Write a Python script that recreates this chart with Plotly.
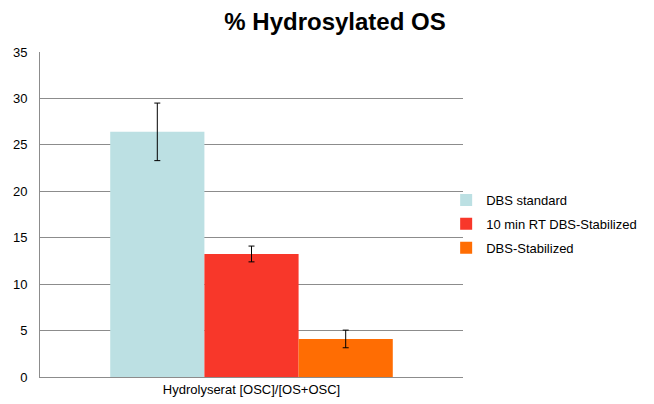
import plotly.graph_objects as go

category = ["Hydrolyserat [OSC]/[OS+OSC]"]
series_names = ["DBS standard", "10 min RT DBS-Stabilized", "DBS-Stabilized"]
values = [26.4, 13.25, 4.1]
errors = [3.1, 0.85, 0.95]
colors = ["#BCE0E3", "#F8372A", "#FF6D03"]
y_ticks = [0, 5, 10, 15, 20, 25, 30, 35]

fig = go.Figure()
for name, v, e, c in zip(series_names, values, errors, colors):
    fig.add_trace(go.Bar(
        x=category, y=[v], name=name, marker=dict(color=c, line=dict(width=0)),
        error_y=dict(type="data", array=[e], visible=True, color="black", thickness=1, width=3),
        legendgroup=name,
    ))

L, R, T, B = 40, 187, 52, 27
PW, PH = 654 - L - R, 404 - T - B

fig.update_layout(
    width=654, height=404,
    margin=dict(l=L, r=R, t=T, b=B),
    paper_bgcolor="white", plot_bgcolor="white",
    font=dict(family="Liberation Sans, Arial", size=13, color="black"),
    title=dict(text="<b>% Hydrosylated OS</b>", x=335 / 654, xanchor="center", xref="container",
               y=1 - 22 / 404, yanchor="middle", yref="container",
               font=dict(size=24, color="black")),
    barmode="group", bargap=0.332, bargroupgap=0,
    showlegend=True,
    legend=dict(xref="paper", yref="paper", x=(450 - L) / PW, xanchor="left",
                y=(377 - 224) / PH, yanchor="middle", font=dict(size=13),
                tracegroupgap=4, itemwidth=30, bgcolor="rgba(0,0,0,0)"),
    xaxis=dict(showline=True, linecolor="#8C8C8C", linewidth=1, ticks="", tickfont=dict(size=13),
               showgrid=False, automargin=False),
    yaxis=dict(range=[0, 35], tickvals=y_ticks, showgrid=True, gridcolor="#8C8C8C", gridwidth=1,
               showline=True, linecolor="#8C8C8C", linewidth=1, ticks="", ticklabelstandoff=9,
               zeroline=False, tickfont=dict(size=13), automargin=False),
)
fig.write_html("out.html", config={"displayModeBar": False},
               post_script="document.body.style.margin='0';document.body.style.overflow='hidden';")
